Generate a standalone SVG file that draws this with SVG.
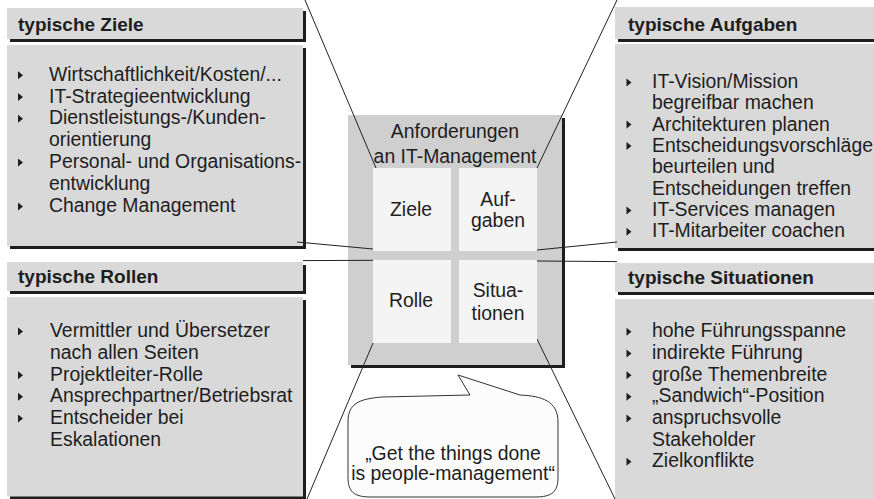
<svg xmlns="http://www.w3.org/2000/svg" xmlns:xlink="http://www.w3.org/1999/xlink" width="874" height="499" viewBox="0 0 874 499">
<style>
.sh{fill:#1e1e1e}
.pf{fill:#d9d9d9}
.cf{fill:#cfcfcf}
.cell{fill:#f4f4f4}
.t{font-family:"Liberation Sans",Arial,sans-serif;font-size:19.4px;fill:#1e1e1e}
.h{font-family:"Liberation Sans",Arial,sans-serif;font-size:19px;font-weight:bold;fill:#1e1e1e}
.m{text-anchor:middle}
.ln{stroke:#222;stroke-width:1;fill:none}
.bub{fill:#fcfcfc;stroke:#333;stroke-width:1}
</style>
<defs>
<path id="b" d="M0,-0.5 L5,3.5 L0,7.5 Z" fill="#1e1e1e"/>
</defs>
<rect width="874" height="499" fill="#ffffff"/>

<g id="ziele">
<rect class="sh" x="10" y="11" width="296" height="31"/>
<rect class="pf" x="7" y="8" width="296" height="31"/>
<text class="h" x="18" y="30.5">typische Ziele</text>
<rect class="sh" x="10" y="48" width="296" height="201"/>
<rect class="pf" x="7" y="45" width="296" height="201"/>
<use xlink:href="#b" x="18" y="71.7"/>
<use xlink:href="#b" x="18" y="93.5"/>
<use xlink:href="#b" x="18" y="115.3"/>
<use xlink:href="#b" x="18" y="159"/>
<use xlink:href="#b" x="18" y="203"/>
<text class="t" x="49" y="80.7">Wirtschaftlichkeit/Kosten/...</text>
<text class="t" x="49" y="102.5">IT-Strategieentwicklung</text>
<text class="t" x="49" y="124.3">Dienstleistungs-/Kunden-</text>
<text class="t" x="49" y="146">orientierung</text>
<text class="t" x="49" y="168">Personal- und Organisations-</text>
<text class="t" x="49" y="190">entwicklung</text>
<text class="t" x="49" y="212">Change Management</text>
</g>

<g id="rollen">
<rect class="sh" x="10" y="265" width="296" height="29"/>
<rect class="pf" x="7" y="262" width="296" height="29"/>
<text class="h" x="18" y="283">typische Rollen</text>
<rect class="sh" x="10" y="300" width="296" height="202"/>
<rect class="pf" x="7" y="297" width="296" height="199.5"/>
<use xlink:href="#b" x="18" y="328"/>
<use xlink:href="#b" x="18" y="371.7"/>
<use xlink:href="#b" x="18" y="393.3"/>
<use xlink:href="#b" x="18" y="415"/>
<text class="t" x="50" y="337">Vermittler und Übersetzer</text>
<text class="t" x="50" y="359">nach allen Seiten</text>
<text class="t" x="50" y="380.7">Projektleiter-Rolle</text>
<text class="t" x="50" y="402.3">Ansprechpartner/Betriebsrat</text>
<text class="t" x="50" y="424">Entscheider bei</text>
<text class="t" x="50" y="445.7">Eskalationen</text>
</g>

<g id="aufgaben">
<rect class="sh" x="618" y="10" width="260" height="32"/>
<rect class="pf" x="615" y="7" width="260" height="32"/>
<text class="h" x="628" y="30.5">typische Aufgaben</text>
<rect class="sh" x="618" y="47" width="260" height="204"/>
<rect class="pf" x="615" y="44" width="260" height="204"/>
<use xlink:href="#b" x="626.5" y="79"/>
<use xlink:href="#b" x="626.5" y="121"/>
<use xlink:href="#b" x="626.5" y="142.5"/>
<use xlink:href="#b" x="626.5" y="207"/>
<use xlink:href="#b" x="626.5" y="228.3"/>
<text class="t" x="652" y="88">IT-Vision/Mission</text>
<text class="t" x="652" y="109.3">begreifbar machen</text>
<text class="t" x="652" y="130.5">Architekturen planen</text>
<text class="t" x="652" y="151.8">Entscheidungsvorschläge</text>
<text class="t" x="652" y="173.2">beurteilen und</text>
<text class="t" x="652" y="194.6">Entscheidungen treffen</text>
<text class="t" x="652" y="216">IT-Services managen</text>
<text class="t" x="652" y="237.3">IT-Mitarbeiter coachen</text>
</g>

<g id="situationen">
<rect class="sh" x="618" y="266" width="260" height="29"/>
<rect class="pf" x="615" y="263" width="260" height="29"/>
<text class="h" x="628" y="283.5">typische Situationen</text>
<rect class="pf" x="615" y="299" width="260" height="200"/>
<use xlink:href="#b" x="626.5" y="328.3"/>
<use xlink:href="#b" x="626.5" y="350"/>
<use xlink:href="#b" x="626.5" y="371.7"/>
<use xlink:href="#b" x="626.5" y="393.3"/>
<use xlink:href="#b" x="626.5" y="415"/>
<use xlink:href="#b" x="626.5" y="458.3"/>
<text class="t" x="652" y="337.3">hohe Führungsspanne</text>
<text class="t" x="652" y="359">indirekte Führung</text>
<text class="t" x="652" y="380.7">große Themenbreite</text>
<text class="t" x="652" y="402.3">„Sandwich“-Position</text>
<text class="t" x="652" y="424">anspruchsvolle</text>
<text class="t" x="652" y="445.7">Stakeholder</text>
<text class="t" x="652" y="467.3">Zielkonflikte</text>
</g>

<g id="anforderungen">
<rect class="sh" x="351" y="118" width="214" height="250"/>
<rect class="cf" x="348" y="115" width="214" height="250"/>
<text class="t m" x="455" y="138.3">Anforderungen</text>
<text class="t m" x="455" y="162.5">an IT-Management</text>
</g>

<g id="connectors">
<line class="ln" x1="305" y1="0" x2="376" y2="168"/>
<line class="ln" x1="297" y1="242" x2="373" y2="249"/>
<line class="ln" x1="303" y1="260.6" x2="373" y2="260.3"/>
<line class="ln" x1="373" y1="343" x2="307" y2="499"/>
<line class="ln" x1="617" y1="0" x2="537" y2="168"/>
<line class="ln" x1="617" y1="242" x2="537" y2="250"/>
<line class="ln" x1="617" y1="261.6" x2="537" y2="261"/>
<line class="ln" x1="537" y1="339" x2="615" y2="499"/>
</g>

<g id="cell-ziele">
<rect class="cell" x="373" y="168" width="78" height="83"/>
<text class="t m" x="411" y="216">Ziele</text>
</g>
<g id="cell-aufgaben">
<rect class="cell" x="459" y="168" width="78" height="83"/>
<text class="t m" x="498" y="206">Auf-</text>
<text class="t m" x="498" y="226.7">gaben</text>
</g>
<g id="cell-rolle">
<rect class="cell" x="373" y="260" width="78" height="83"/>
<text class="t m" x="411" y="307.3">Rolle</text>
</g>
<g id="cell-situationen">
<rect class="cell" x="459" y="260" width="78" height="83"/>
<text class="t m" x="498" y="297.3">Situa-</text>
<text class="t m" x="498" y="319.5">tionen</text>
</g>

<g id="bubble">
<path class="bub" d="M348,422 C348,404 358,399 382,397 L470,395 L458,375 L520,395 C542,396 558,401 558,422 L558,477 C558,492 552,497 535,497 L371,497 C354,497 348,492 348,477 Z"/>
<text class="t m" x="453" y="460">„Get the things done</text>
<text class="t m" x="453" y="480">is people-management“</text>
</g>
</svg>
